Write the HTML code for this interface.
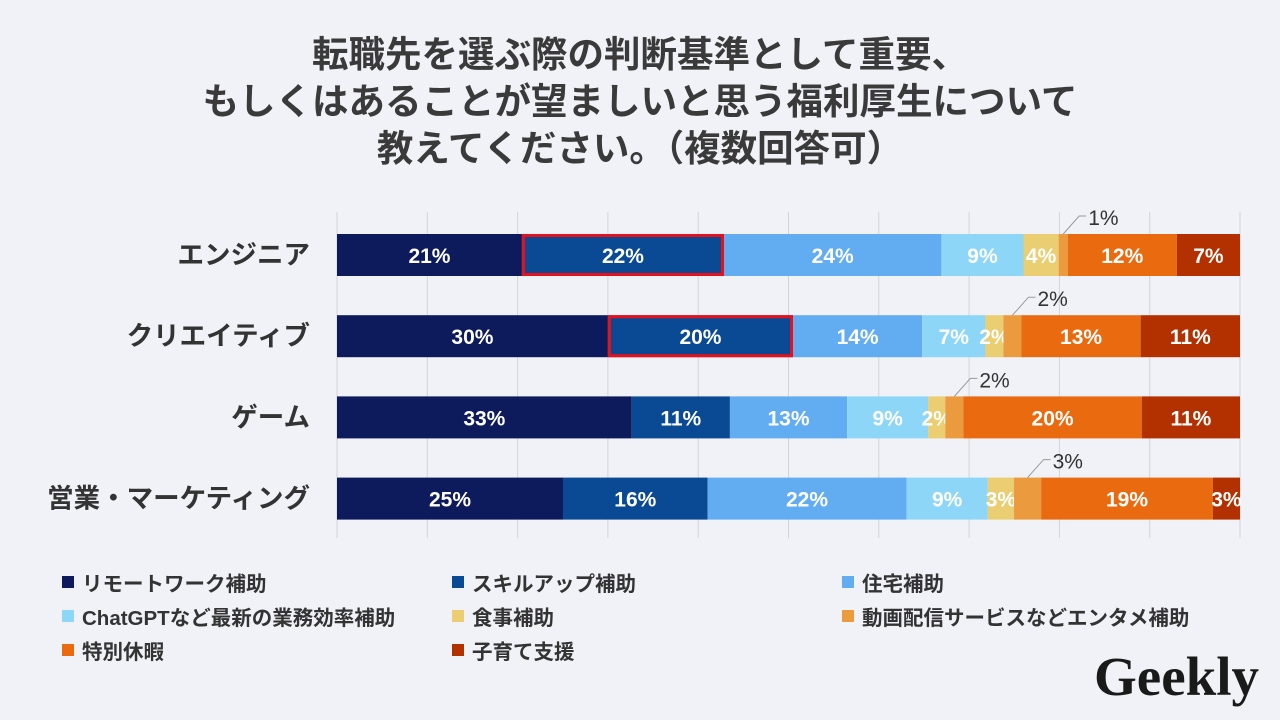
<!DOCTYPE html>
<html><head><meta charset="utf-8">
<style>
body{margin:0;background:#f1f2f7;}
#wrap{position:relative;width:1280px;height:720px;overflow:hidden;background:#f1f2f7;font-family:"Liberation Sans","Noto Sans CJK JP",sans-serif;}
#title{position:absolute;left:0;top:31px;width:1280px;text-align:center;font-size:36.5px;font-weight:bold;color:#3a3a3a;line-height:47px;}
.leg{position:absolute;font-size:20.5px;font-weight:bold;color:#333;display:flex;align-items:center;white-space:nowrap;}
.leg i{display:inline-block;width:12px;height:12px;margin-right:8px;}
#logo{position:absolute;left:1094px;top:645px;font-family:"Liberation Serif",serif;font-weight:bold;font-size:55px;color:#1a1a1a;}
</style></head><body>
<div id="wrap">
<div id="title">転職先を選ぶ際の判断基準として重要、<br>もしくはあることが望ましいと思う福利厚生について<br>教えてください。（複数回答可）</div>
<svg id="chart" width="1280" height="720" style="position:absolute;left:0;top:0"></svg>
<div id="legend"></div>
<div id="logo">Geekly</div>
</div>
<script>
const categories=["エンジニア","クリエイティブ","ゲーム","営業・マーケティング"];
const seriesNames=["リモートワーク補助","スキルアップ補助","住宅補助","ChatGPTなど最新の業務効率補助","食事補助","動画配信サービスなどエンタメ補助","特別休暇","子育て支援"];
const s0=[20.5,30,32.7,25];
const s1=[22.4,20.5,10.9,16];
const s2=[24.1,14.3,13,22];
const s3=[9.1,7,9,9];
const s4=[3.9,2,1.9,2.9];
const s5=[1,2,2,3];
const s6=[12.1,13.2,19.8,19];
const s7=[7,11,10.9,3];
const labels0=["21%","30%","33%","25%"];
const labels1=["22%","20%","11%","16%"];
const labels2=["24%","14%","13%","22%"];
const labels3=["9%","7%","9%","9%"];
const labels4=["4%","2%","2%","3%"];
const labels5=["1%","2%","2%","3%"];
const labels6=["12%","13%","20%","19%"];
const labels7=["7%","11%","11%","3%"];
const series=[s0,s1,s2,s3,s4,s5,s6,s7];
const labels=[labels0,labels1,labels2,labels3,labels4,labels5,labels6,labels7];
const colors=["#0d1a5c","#0a4a94","#62acf2","#8ed6f8","#ebcd72","#ec9a3e","#ea6a10","#b33100"];
const highlighted=[[0,1],[1,1]];
const callout=5;

const X0=337,X1=1240,W=X1-X0;
const xs=v=>X0+v/100*W;
const rowY=i=>234+i*81.2;
const BH=42;
const NS="http://www.w3.org/2000/svg";
const svg=document.getElementById('chart');
function mk(t,a){const e=document.createElementNS(NS,t);for(const k in a)e.setAttribute(k,a[k]);svg.appendChild(e);return e;}
for(let g=0;g<=10;g++){
  const l=mk('line',{x1:xs(g*10),x2:xs(g*10),y1:212,y2:538,stroke:'#d3d4d9','stroke-width':1});
  
  
}
categories.forEach((c,i)=>{
  const y=rowY(i);
  const t=mk('text',{x:310,y:y+BH/2+9,'text-anchor':'end','font-size':26.5,'font-weight':'bold',fill:'#333'});
  t.textContent=c;
  
  
  let tot=0;series.forEach(s=>tot+=s[i]);
  let acc=0;
  series.forEach((s,k)=>{
    const v=s[i]/tot*100;
    const xa=xs(acc),xb=xs(acc+v);
    const r=mk('rect',{x:xa,y:y,width:xb-xa,height:BH,fill:colors[k]});
    
    
    if(k===callout){
      const cx=(xa+xb)/2;
      const lx=cx+16;
      const p=mk('polyline',{points:`${cx},${y} ${lx},${y-18} ${lx+7},${y-18}`,fill:'none',stroke:'#999','stroke-width':1});
      
      
      const tl=mk('text',{x:lx+9,y:y-9,'font-size':21,fill:'#333'});
      tl.textContent=labels[k][i];
      
      
    } else {
      const tl=mk('text',{x:(xa+xb)/2,y:y+BH/2+8,'text-anchor':'middle','font-size':21,'font-weight':'bold',fill:'#fff'});
      tl.textContent=labels[k][i];
      
      
    }
    highlighted.forEach(h=>{if(h[0]===i&&h[1]===k){
      const hr=mk('rect',{x:xa+1.5,y:y+1.5,width:xb-xa-3,height:BH-3,fill:'none',stroke:'#e8101a','stroke-width':3});
      
      
    }});
    acc+=v;
  });
});
const lg=document.getElementById('legend');
seriesNames.forEach((n,k)=>{
  const d=document.createElement('div');
  d.className='leg';
  d.style.left=(62+(k%3)*390)+'px';
  d.style.top=(567+Math.floor(k/3)*34)+'px';
  d.innerHTML='<i style="background:'+colors[k]+'"></i>'+n;
  
  
  lg.appendChild(d);
});
</script>
</body></html>
